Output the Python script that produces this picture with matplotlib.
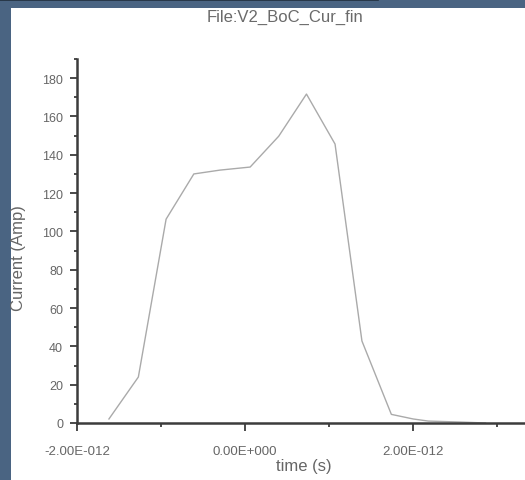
import matplotlib.pyplot as plt
from matplotlib.patches import Rectangle
from matplotlib.lines import Line2D
from matplotlib.ticker import FixedLocator, MultipleLocator, FuncFormatter

plt.rcParams['font.family'] = ['Liberation Sans', 'DejaVu Sans']

# Current waveform (time in picoseconds, current in amps)
time_ps = [-1.62, -1.27, -0.94, -0.61, -0.30, 0.06, 0.40, 0.73, 1.07,
           1.39, 1.74, 2.00, 2.18, 2.56, 2.86]
current = [2.1, 24.0, 106.4, 130.0, 132.0, 133.6, 149.7, 171.7, 145.6,
           42.8, 4.5, 2.1, 1.0, 0.5, 0.0]
time_s = [t * 1e-12 for t in time_ps]

W, H = 525, 481
fig = plt.figure(figsize=(W / 100, H / 100), dpi=100)
fig.patch.set_facecolor('#4a6482')

# white panel inside the window frame
fig.add_artist(Rectangle((11 / W, 0), 1 - 11 / W, 1 - 9 / H,
                         transform=fig.transFigure, facecolor='white',
                         edgecolor='none', zorder=0))
fig.add_artist(Line2D([0, 378 / W], [1 - 0.5 / H, 1 - 0.5 / H],
                      transform=fig.transFigure, color='#22303e', lw=1.2))

ax = fig.add_axes([77 / W, 57 / H, 448 / W, 364 / H])
ax.set_facecolor('none')
ax.plot(time_s, current, color='#aaaaaa', lw=1.0, clip_on=False)

ax.set_xlim(-2e-12, 3.33e-12)
ax.set_ylim(0, 190)

ax.xaxis.set_major_locator(FixedLocator([-2e-12, 0, 2e-12]))
ax.xaxis.set_minor_locator(FixedLocator([-1e-12, 1e-12, 3e-12]))


def sci_label(v, pos):
    if abs(v) < 1e-20:
        return '0.00E+000'
    m, e = f'{v:.2E}'.split('E')
    return f'{m}E{e[0]}{abs(int(e)):03d}'


ax.xaxis.set_major_formatter(FuncFormatter(sci_label))
ax.yaxis.set_major_locator(MultipleLocator(20))
ax.yaxis.set_minor_locator(MultipleLocator(10))

for side in ('top', 'right'):
    ax.spines[side].set_visible(False)
for side in ('left', 'bottom'):
    ax.spines[side].set_color('#3c3c3c')
    ax.spines[side].set_linewidth(1.8)

ax.tick_params(axis='x', which='major', direction='out', length=6, width=1.3,
               color='#3c3c3c', labelcolor='#666666', labelsize=9.5, pad=10)
ax.tick_params(axis='x', which='minor', direction='out', length=3, width=1.3,
               color='#3c3c3c')
ax.tick_params(axis='y', which='major', direction='out', length=5, width=1.3,
               color='#3c3c3c', labelcolor='#666666', labelsize=9, pad=5)
ax.tick_params(axis='y', which='minor', direction='out', length=2.5, width=1.3,
               color='#3c3c3c')

ax.set_xlabel('time (s)', fontsize=12, color='#666666')
ax.xaxis.set_label_coords((304 - 77) / 448, -(467 - 424) / 364)
ax.xaxis.label.set_va('center')
ax.set_ylabel('Current (Amp)', fontsize=12, color='#666666')
ax.yaxis.set_label_coords(-(77 - 19) / 448, (424 - 258) / 364)
ax.yaxis.label.set_va('center')

fig.text(285 / W, 1 - 17 / H, 'File:V2_BoC_Cur_fin', ha='center', va='center',
         fontsize=12, color='#6a6a6a')

fig.savefig('out.png', dpi=100, facecolor=fig.get_facecolor())
